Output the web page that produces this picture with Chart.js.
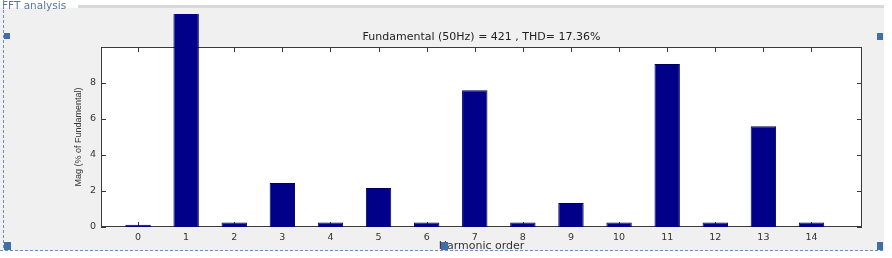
<!DOCTYPE html>
<html>
<head>
<meta charset="utf-8">
<script src="https://cdn.jsdelivr.net/npm/chart.js@4.4.1/dist/chart.umd.min.js"></script>
<style>
	body { margin: 0; background: #fff; }
	#wrap { position: relative; width: 892px; height: 258px; }
</style>
</head>
<body>
<div id="wrap"><canvas id="fft"></canvas></div>
<script>
const harmonicOrder = [0, 1, 2, 3, 4, 5, 6, 7, 8, 9, 10, 11, 12, 13, 14];
// % of fundamental; the fundamental itself is 100 and runs off the top of the axes
const magnitude = [0.12, 100, 0.25, 2.44, 0.25, 2.16, 0.25, 7.6, 0.25, 1.33, 0.25, 9.05, 0.25, 5.6, 0.25];
const yTicks = [0, 2, 4, 6, 8];
const xTicks = harmonicOrder;
const chartTitle = 'Fundamental (50Hz) = 421 , THD= 17.36%';
const panelTitle = 'FFT analysis';

const fontFamily = '"Liberation Sans", Arial, sans-serif';
const wideFont = '"DejaVu Sans", sans-serif';
const textColor = '#333';

const panel = {
	id: 'panel',
	beforeDraw(chart) {
		const { ctx, chartArea: a } = chart;
		ctx.save();
		ctx.fillStyle = '#fff';
		ctx.fillRect(0, 0, chart.width, chart.height);
		ctx.fillStyle = '#f0f0f0';
		ctx.fillRect(0, 8, 884, 243);
		ctx.fillStyle = '#d8d8d8';
		ctx.fillRect(78, 5, 806, 3);
		ctx.fillStyle = '#fff';
		ctx.fillRect(a.left, a.top, a.width, a.height);
		ctx.fillStyle = '#5a76a0';
		ctx.font = '10.5px ' + wideFont;
		ctx.textBaseline = 'middle';
		ctx.fillText(panelTitle, 2, 6);
		ctx.restore();
	},
	beforeDatasetsDraw(chart) {
		const { ctx, chartArea: a, scales: { x, y } } = chart;
		ctx.save();
		ctx.strokeStyle = '#3a3a3a';
		ctx.lineWidth = 1;
		ctx.strokeRect(a.left + 0.5, a.top + 0.5, a.width - 1, a.height - 1);
		ctx.beginPath();
		for (const t of x.ticks) {
			const px = Math.round(x.getPixelForValue(t.value)) + 0.5;
			ctx.moveTo(px, a.bottom);
			ctx.lineTo(px, a.bottom - 5);
			ctx.moveTo(px, a.top);
			ctx.lineTo(px, a.top + 5);
		}
		for (const t of y.ticks) {
			const py = Math.round(y.getPixelForValue(t.value)) + 0.5;
			ctx.moveTo(a.left, py);
			ctx.lineTo(a.left + 5, py);
			ctx.moveTo(a.right, py);
			ctx.lineTo(a.right - 5, py);
		}
		ctx.stroke();
		ctx.restore();
	},
	afterDraw(chart) {
		const { ctx } = chart;
		ctx.save();
		ctx.fillStyle = '#fff';
		ctx.fillRect(0, 251, chart.width, chart.height - 251);
		ctx.strokeStyle = '#6b8fbf';
		ctx.lineWidth = 1;
		ctx.setLineDash([3, 2]);
		ctx.beginPath();
		ctx.moveTo(3.5, 0);
		ctx.lineTo(3.5, 250);
		ctx.moveTo(0, 250.5);
		ctx.lineTo(884, 250.5);
		ctx.stroke();
		ctx.fillStyle = '#3f6ea8';
		ctx.fillRect(4, 33, 6, 6);
		ctx.fillRect(877, 33, 6, 7);
		ctx.fillRect(4, 242, 7, 8);
		ctx.fillRect(877, 242, 6, 8);
		ctx.fillRect(441, 242, 7, 8);
		ctx.restore();
	},
};

new Chart(document.getElementById('fft'), {
	type: 'bar',
	data: {
		datasets: [{
			data: magnitude.map((v, i) => ({ x: harmonicOrder[i], y: v })),
			backgroundColor: '#000088',
			borderColor: '#00005a',
			borderWidth: 1,
			barPercentage: 0.66,
			categoryPercentage: 0.8,
			clip: { left: 0, top: 33, right: 0, bottom: 0 },
		}],
	},
	options: {
		responsive: true,
		maintainAspectRatio: false,
		animation: false,
		layout: { padding: { left: 70, right: 30, top: 31, bottom: 0 } },
		plugins: {
			legend: { display: false },
			tooltip: { enabled: false },
			title: {
				display: true,
				text: chartTitle,
				fullSize: false,
				color: '#222',
				font: { family: wideFont, size: 11, weight: 'normal' },
				padding: { top: 0, bottom: 2.8 },
			},
		},
		scales: {
			x: {
				type: 'linear',
				offset: false,
				min: -0.77,
				max: 15.05,
				grid: { display: false, drawTicks: false, offset: false },
				border: { display: false },
				afterBuildTicks: (scale) => { scale.ticks = xTicks.map((v) => ({ value: v })); },
				afterFit: (scale) => { scale.height = 31; },
				ticks: {
					color: textColor,
					font: { family: wideFont, size: 9.5 },
					padding: 5,
					maxRotation: 0,
					autoSkip: false,
				},
				title: {
					display: true,
					text: 'Harmonic order',
					color: textColor,
					font: { family: wideFont, size: 11 },
					padding: { top: 0, bottom: 5 },
				},
			},
			y: {
				min: 0,
				max: 10,
				grid: { display: false, drawTicks: false },
				border: { display: false },
				afterBuildTicks: (scale) => { scale.ticks = yTicks.map((v) => ({ value: v })); },
				afterFit: (scale) => { scale.width = 31; },
				ticks: {
					color: textColor,
					font: { family: wideFont, size: 9.5 },
					padding: 5,
				},
				title: {
					display: true,
					text: 'Mag (% of Fundamental)',
					color: textColor,
					font: { family: fontFamily, size: 9 },
					padding: { top: 3, bottom: 0 },
				},
			},
		},
	},
	plugins: [panel],
});
</script>
</body>
</html>
